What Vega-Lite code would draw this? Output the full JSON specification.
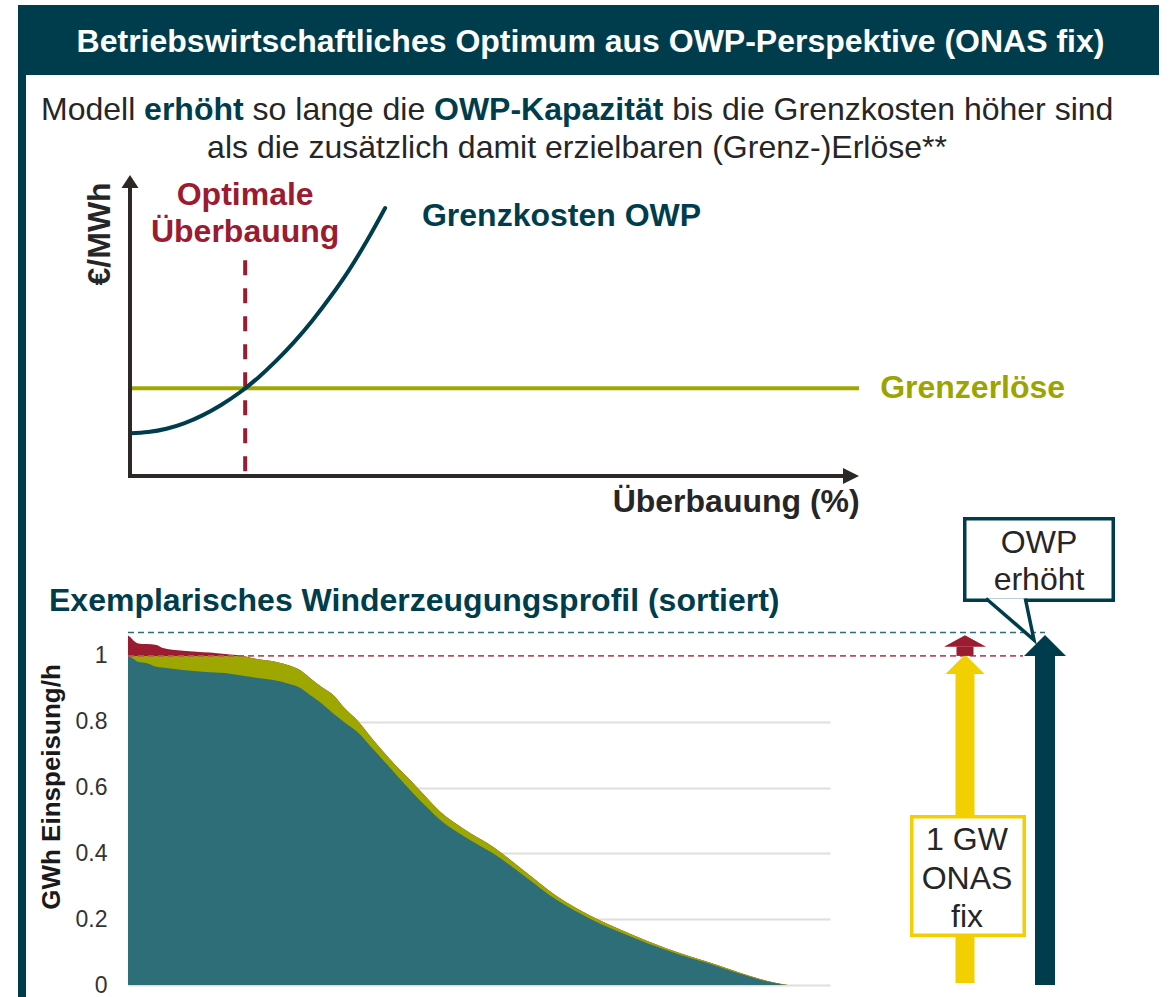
{
  "$schema": "https://vega.github.io/schema/vega-lite/v6.json",
  "padding": {"left": 18, "top": 5, "right": 10, "bottom": 0},
  "background": "white",
  "config": {"font": "Liberation Sans", "view": {"stroke": null}, "axis": {"labelFontSize": 23, "labelFont": "Liberation Sans"}},
  "datasets": {
    "curve": [
      {"x": 0, "y": 14.0}, {"x": 2.5, "y": 14.4}, {"x": 5, "y": 15.5}, {"x": 7.5, "y": 17.4},
      {"x": 10, "y": 20.1}, {"x": 12.5, "y": 23.5}, {"x": 15, "y": 27.6}, {"x": 17.5, "y": 32.5},
      {"x": 20, "y": 38.2}, {"x": 22.5, "y": 44.6}, {"x": 25, "y": 51.8}, {"x": 27.5, "y": 59.8},
      {"x": 30, "y": 68.6}, {"x": 32.5, "y": 78.6}, {"x": 35, "y": 89.6}
    ],
    "profile": [
      {"h": 0, "base": 1.0, "total": 1.0, "top": 1.062},
      {"h": 37, "base": 0.995, "total": 1.0, "top": 1.055},
      {"h": 75, "base": 0.99, "total": 1.0, "top": 1.045},
      {"h": 125, "base": 0.982, "total": 1.0, "top": 1.038},
      {"h": 233, "base": 0.978, "total": 1.0, "top": 1.036},
      {"h": 358, "base": 0.967, "total": 1.0, "top": 1.033},
      {"h": 424, "base": 0.965, "total": 1.0, "top": 1.025},
      {"h": 686, "base": 0.957, "total": 1.0, "top": 1.016},
      {"h": 1023, "base": 0.95, "total": 1.0, "top": 1.01},
      {"h": 1273, "base": 0.946, "total": 1.0, "top": 1.004},
      {"h": 1435, "base": 0.94, "total": 1.0, "top": 1.0},
      {"h": 1560, "base": 0.935, "total": 0.993, "top": 0.993},
      {"h": 1772, "base": 0.928, "total": 0.985, "top": 0.985},
      {"h": 1984, "base": 0.917, "total": 0.973, "top": 0.973},
      {"h": 2146, "base": 0.903, "total": 0.957, "top": 0.957},
      {"h": 2271, "base": 0.881, "total": 0.933, "top": 0.933},
      {"h": 2421, "base": 0.855, "total": 0.905, "top": 0.905},
      {"h": 2558, "base": 0.826, "total": 0.882, "top": 0.882},
      {"h": 2708, "base": 0.797, "total": 0.84, "top": 0.84},
      {"h": 2858, "base": 0.77, "total": 0.805, "top": 0.805},
      {"h": 3020, "base": 0.727, "total": 0.757, "top": 0.757},
      {"h": 3182, "base": 0.684, "total": 0.71, "top": 0.71},
      {"h": 3369, "base": 0.633, "total": 0.66, "top": 0.66},
      {"h": 3557, "base": 0.583, "total": 0.614, "top": 0.614},
      {"h": 3731, "base": 0.54, "total": 0.568, "top": 0.568},
      {"h": 3893, "base": 0.502, "total": 0.527, "top": 0.527},
      {"h": 4206, "base": 0.45, "total": 0.472, "top": 0.472},
      {"h": 4555, "base": 0.4, "total": 0.42, "top": 0.42},
      {"h": 4954, "base": 0.33, "total": 0.345, "top": 0.345},
      {"h": 5353, "base": 0.258, "total": 0.27, "top": 0.27},
      {"h": 5778, "base": 0.2, "total": 0.21, "top": 0.21},
      {"h": 6264, "base": 0.148, "total": 0.156, "top": 0.156},
      {"h": 6714, "base": 0.106, "total": 0.112, "top": 0.112},
      {"h": 7363, "base": 0.056, "total": 0.06, "top": 0.06},
      {"h": 7637, "base": 0.034, "total": 0.037, "top": 0.037},
      {"h": 7887, "base": 0.016, "total": 0.018, "top": 0.018},
      {"h": 8074, "base": 0.006, "total": 0.007, "top": 0.007},
      {"h": 8211, "base": 0.0, "total": 0.001, "top": 0.001},
      {"h": 8261, "base": 0.0, "total": 0.0, "top": 0.0}
    ]
  },
  "spacing": 0,
  "bounds": "flush",
  "hconcat": [
    {
      "width": 4, "height": 992,
      "view": {"fill": "#003d4c", "stroke": null},
      "data": {"values": [{}]},
      "mark": {"type": "text"},
      "encoding": {"text": {"value": ""}}
    },
    {
      "spacing": 0,
      "bounds": "flush",
      "vconcat": [
        {
          "width": 1137, "height": 70,
          "view": {"fill": "#003d4c", "stroke": null},
          "data": {"values": [{}]},
          "mark": {"type": "text", "fontSize": 32, "fontWeight": "bold", "color": "#ffffff", "baseline": "alphabetic", "dy": 11.7},
          "encoding": {"text": {"value": "Betriebswirtschaftliches Optimum aus OWP-Perspektive (ONAS fix)"}}
        },
        {
          "width": 1137, "height": 95,
          "data": {"values": [{}]},
          "layer": [
            {"mark": {"type": "text", "fontSize": 32, "color": "#262626", "align": "left", "baseline": "alphabetic", "dx": -549.5, "dy": -2.5}, "encoding": {"text": {"value": "Modell"}}},
            {"mark": {"type": "text", "fontSize": 32, "fontWeight": "bold", "color": "#003d4c", "align": "left", "baseline": "alphabetic", "dx": -446.4, "dy": -2.5}, "encoding": {"text": {"value": "erhöht"}}},
            {"mark": {"type": "text", "fontSize": 32, "color": "#262626", "align": "left", "baseline": "alphabetic", "dx": -337.9, "dy": -2.5}, "encoding": {"text": {"value": "so lange die"}}},
            {"mark": {"type": "text", "fontSize": 32, "fontWeight": "bold", "color": "#003d4c", "align": "left", "baseline": "alphabetic", "dx": -156.5, "dy": -2.5}, "encoding": {"text": {"value": "OWP-Kapazität"}}},
            {"mark": {"type": "text", "fontSize": 32, "color": "#262626", "align": "left", "baseline": "alphabetic", "dx": 81.7, "dy": -2.5}, "encoding": {"text": {"value": "bis die Grenzkosten höher sind"}}},
            {"mark": {"type": "text", "fontSize": 32, "color": "#262626", "align": "center", "baseline": "alphabetic", "dx": -13.5, "dy": 35.5}, "encoding": {"text": {"value": "als die zusätzlich damit erzielbaren (Grenz-)Erlöse**"}}}
          ]
        },
        {
          "width": 1137, "height": 350,
          "layer": [
            {
              "data": {"values": [{}]},
              "mark": {"type": "rule", "color": "#9b1b30", "strokeWidth": 4, "strokeDash": [15, 13]},
              "encoding": {
                "x": {"datum": 15.8, "type": "quantitative", "scale": {"domain": [0, 100], "range": [108, 837]}, "axis": null},
                "y": {"datum": 72.1, "type": "quantitative", "scale": {"domain": [0, 100], "range": [305, 7]}, "axis": null},
                "y2": {"datum": 1.3}
              }
            },
            {
              "data": {"values": [{}]},
              "mark": {"type": "rule", "color": "#a0a800", "strokeWidth": 4},
              "encoding": {
                "x": {"datum": 0, "type": "quantitative", "scale": {"domain": [0, 100], "range": [108, 837]}, "axis": null},
                "x2": {"datum": 100},
                "y": {"datum": 29.1, "type": "quantitative", "scale": {"domain": [0, 100], "range": [305, 7]}, "axis": null}
              }
            },
            {
              "data": {"name": "curve"},
              "mark": {"type": "line", "color": "#003d4c", "strokeWidth": 4, "interpolate": "monotone", "strokeCap": "round"},
              "encoding": {
                "x": {"field": "x", "type": "quantitative", "scale": {"domain": [0, 100], "range": [108, 837]}, "axis": null},
                "y": {"field": "y", "type": "quantitative", "scale": {"domain": [0, 100], "range": [305, 7]}, "axis": null}
              }
            },
            {
              "data": {"values": [{}]},
              "mark": {"type": "rule", "color": "#2b2826", "strokeWidth": 4, "strokeCap": "square"},
              "encoding": {
                "x": {"datum": 0, "type": "quantitative", "scale": {"domain": [0, 100], "range": [108, 837]}, "axis": null},
                "y": {"datum": -0.3, "type": "quantitative", "scale": {"domain": [0, 100], "range": [305, 7]}, "axis": null},
                "y2": {"datum": 97}
              }
            },
            {
              "data": {"values": [{}]},
              "mark": {"type": "rule", "color": "#2b2826", "strokeWidth": 4, "strokeCap": "square"},
              "encoding": {
                "x": {"datum": 0, "type": "quantitative", "scale": {"domain": [0, 100], "range": [108, 837]}, "axis": null},
                "x2": {"datum": 98},
                "y": {"datum": -0.3, "type": "quantitative", "scale": {"domain": [0, 100], "range": [305, 7]}, "axis": null}
              }
            },
            {
              "data": {"values": [{}]},
              "mark": {"type": "point", "filled": true, "opacity": 1, "color": "#2b2826", "strokeWidth": 0, "shape": "M0,-0.76L1,0.76L-1,0.76Z", "size": 289},
              "encoding": {
                "x": {"datum": 0, "type": "quantitative", "scale": {"domain": [0, 100], "range": [108, 837]}, "axis": null},
                "y": {"datum": 98.5, "type": "quantitative", "scale": {"domain": [0, 100], "range": [305, 7]}, "axis": null}
              }
            },
            {
              "data": {"values": [{}]},
              "mark": {"type": "point", "filled": true, "opacity": 1, "color": "#2b2826", "strokeWidth": 0, "shape": "M1,0L-1,-1L-1,1Z", "size": 256},
              "encoding": {
                "x": {"datum": 98.9, "type": "quantitative", "scale": {"domain": [0, 100], "range": [108, 837]}, "axis": null},
                "y": {"datum": -0.3, "type": "quantitative", "scale": {"domain": [0, 100], "range": [305, 7]}, "axis": null}
              }
            },
            {
              "data": {"values": [{}]},
              "mark": {"type": "text", "fontSize": 32, "fontWeight": "bold", "color": "#262626", "angle": 270, "align": "center", "baseline": "middle"},
              "encoding": {
                "x": {"datum": -4.1, "type": "quantitative", "scale": {"domain": [0, 100], "range": [108, 837]}, "axis": null},
                "y": {"datum": 80.9, "type": "quantitative", "scale": {"domain": [0, 100], "range": [305, 7]}, "axis": null},
                "text": {"value": "€/MWh"}
              }
            },
            {
              "data": {"values": [{}]},
              "mark": {"type": "text", "fontSize": 32, "fontWeight": "bold", "color": "#9b1b30", "align": "center", "baseline": "alphabetic"},
              "encoding": {
                "x": {"datum": 15.8, "type": "quantitative", "scale": {"domain": [0, 100], "range": [108, 837]}, "axis": null},
                "y": {"datum": 90.6, "type": "quantitative", "scale": {"domain": [0, 100], "range": [305, 7]}, "axis": null},
                "text": {"value": "Optimale"}
              }
            },
            {
              "data": {"values": [{}]},
              "mark": {"type": "text", "fontSize": 32, "fontWeight": "bold", "color": "#9b1b30", "align": "center", "baseline": "alphabetic"},
              "encoding": {
                "x": {"datum": 15.8, "type": "quantitative", "scale": {"domain": [0, 100], "range": [108, 837]}, "axis": null},
                "y": {"datum": 78.2, "type": "quantitative", "scale": {"domain": [0, 100], "range": [305, 7]}, "axis": null},
                "text": {"value": "Überbauung"}
              }
            },
            {
              "data": {"values": [{}]},
              "mark": {"type": "text", "fontSize": 32, "fontWeight": "bold", "color": "#003d4c", "align": "left", "baseline": "alphabetic"},
              "encoding": {
                "x": {"datum": 40.05, "type": "quantitative", "scale": {"domain": [0, 100], "range": [108, 837]}, "axis": null},
                "y": {"datum": 83.6, "type": "quantitative", "scale": {"domain": [0, 100], "range": [305, 7]}, "axis": null},
                "text": {"value": "Grenzkosten OWP"}
              }
            },
            {
              "data": {"values": [{}]},
              "mark": {"type": "text", "fontSize": 32, "fontWeight": "bold", "color": "#9ca400", "align": "left", "baseline": "alphabetic"},
              "encoding": {
                "x": {"datum": 102.9, "type": "quantitative", "scale": {"domain": [0, 100], "range": [108, 837]}, "axis": null},
                "y": {"datum": 25.8, "type": "quantitative", "scale": {"domain": [0, 100], "range": [305, 7]}, "axis": null},
                "text": {"value": "Grenzerlöse"}
              }
            },
            {
              "data": {"values": [{}]},
              "mark": {"type": "text", "fontSize": 32, "fontWeight": "bold", "color": "#262626", "align": "right", "baseline": "alphabetic"},
              "encoding": {
                "x": {"datum": 100.1, "type": "quantitative", "scale": {"domain": [0, 100], "range": [108, 837]}, "axis": null},
                "y": {"datum": -12.3, "type": "quantitative", "scale": {"domain": [0, 100], "range": [305, 7]}, "axis": null},
                "text": {"value": "Überbauung (%)"}
              }
            }
          ]
        },
        {
          "spacing": 0,
          "bounds": "flush",
          "hconcat": [
            {
              "width": 106, "height": 465,
              "data": {"values": [{}]},
              "mark": {"type": "text"},
              "encoding": {"text": {"value": ""}}
            },
            {
              "width": 702, "height": 465,
              "layer": [
                {
                  "data": {"name": "profile"},
                  "mark": {"type": "area", "color": "#9b1b30", "opacity": 1, "interpolate": "monotone"},
                  "encoding": {
                    "x": {"field": "h", "type": "quantitative", "scale": {"domain": [0, 8760], "nice": false}, "axis": null},
                    "y": {"field": "top", "type": "quantitative", "scale": {"domain": [0, 1.1], "range": [465, 103], "nice": false},
                      "axis": {"values": [0, 0.2, 0.4, 0.6, 0.8, 1], "format": "~g", "grid": true, "gridColor": "#e2dedb", "gridWidth": 2,
                        "gridOpacity": {"condition": {"test": "datum.value >= 1", "value": 0}, "value": 1},
                        "domain": false, "ticks": false, "labelPadding": 21, "labelFontSize": 23, "labelColor": "#333333", "labelFont": "Liberation Sans",
                        "title": "GWh Einspeisung/h", "titleFontSize": 26, "titleFontWeight": "bold", "titleColor": "#1a1a1a", "titleFont": "Liberation Sans",
                        "titleX": -69, "titleY": 266.5, "titleAngle": 270, "titleAlign": "center", "titleBaseline": "alphabetic"}}
                  }
                },
                {
                  "data": {"name": "profile"},
                  "mark": {"type": "area", "color": "#9ea700", "opacity": 1, "interpolate": "monotone"},
                  "encoding": {
                    "x": {"field": "h", "type": "quantitative", "scale": {"domain": [0, 8760], "nice": false}, "axis": null},
                    "y": {"field": "total", "type": "quantitative", "scale": {"domain": [0, 1.1], "range": [465, 103], "nice": false},
                      "axis": {"values": [0, 0.2, 0.4, 0.6, 0.8, 1], "format": "~g", "grid": true, "gridColor": "#e2dedb", "gridWidth": 2,
                        "gridOpacity": {"condition": {"test": "datum.value >= 1", "value": 0}, "value": 1},
                        "domain": false, "ticks": false, "labelPadding": 21, "labelFontSize": 23, "labelColor": "#333333", "labelFont": "Liberation Sans",
                        "title": "GWh Einspeisung/h", "titleFontSize": 26, "titleFontWeight": "bold", "titleColor": "#1a1a1a", "titleFont": "Liberation Sans",
                        "titleX": -69, "titleY": 266.5, "titleAngle": 270, "titleAlign": "center", "titleBaseline": "alphabetic"}}
                  }
                },
                {
                  "data": {"name": "profile"},
                  "mark": {"type": "area", "color": "#2e6e78", "opacity": 1, "interpolate": "monotone"},
                  "encoding": {
                    "x": {"field": "h", "type": "quantitative", "scale": {"domain": [0, 8760], "nice": false}, "axis": null},
                    "y": {"field": "base", "type": "quantitative", "scale": {"domain": [0, 1.1], "range": [465, 103], "nice": false},
                      "axis": {"values": [0, 0.2, 0.4, 0.6, 0.8, 1], "format": "~g", "grid": true, "gridColor": "#e2dedb", "gridWidth": 2,
                        "gridOpacity": {"condition": {"test": "datum.value >= 1", "value": 0}, "value": 1},
                        "domain": false, "ticks": false, "labelPadding": 21, "labelFontSize": 23, "labelColor": "#333333", "labelFont": "Liberation Sans",
                        "title": "GWh Einspeisung/h", "titleFontSize": 26, "titleFontWeight": "bold", "titleColor": "#1a1a1a", "titleFont": "Liberation Sans",
                        "titleX": -69, "titleY": 266.5, "titleAngle": 270, "titleAlign": "center", "titleBaseline": "alphabetic"}}
                  }
                },
                {
                  "data": {"values": [{}]},
                  "mark": {"type": "rule", "color": "#b5505f", "strokeWidth": 1.6, "strokeDash": [6, 4]},
                  "encoding": {
                    "x": {"datum": 0, "type": "quantitative", "scale": {"domain": [0, 8760], "nice": false}, "axis": null},
                    "x2": {"datum": 8760},
                    "y": {"datum": 1, "type": "quantitative", "scale": {"domain": [0, 1.1], "range": [465, 103], "nice": false},
                      "axis": {"values": [0, 0.2, 0.4, 0.6, 0.8, 1], "format": "~g", "grid": true, "gridColor": "#e2dedb", "gridWidth": 2,
                        "gridOpacity": {"condition": {"test": "datum.value >= 1", "value": 0}, "value": 1},
                        "domain": false, "ticks": false, "labelPadding": 21, "labelFontSize": 23, "labelColor": "#333333", "labelFont": "Liberation Sans",
                        "title": "GWh Einspeisung/h", "titleFontSize": 26, "titleFontWeight": "bold", "titleColor": "#1a1a1a", "titleFont": "Liberation Sans",
                        "titleX": -69, "titleY": 266.5, "titleAngle": 270, "titleAlign": "center", "titleBaseline": "alphabetic"}}
                  }
                },
                {
                  "data": {"values": [{}]},
                  "mark": {"type": "rule", "color": "#2e6e78", "strokeWidth": 1.6, "strokeDash": [6, 4]},
                  "encoding": {
                    "x": {"datum": 0, "type": "quantitative", "scale": {"domain": [0, 8760], "nice": false}, "axis": null},
                    "x2": {"datum": 8760},
                    "y": {"datum": 1.071, "type": "quantitative", "scale": {"domain": [0, 1.1], "range": [465, 103], "nice": false},
                      "axis": {"values": [0, 0.2, 0.4, 0.6, 0.8, 1], "format": "~g", "grid": true, "gridColor": "#e2dedb", "gridWidth": 2,
                        "gridOpacity": {"condition": {"test": "datum.value >= 1", "value": 0}, "value": 1},
                        "domain": false, "ticks": false, "labelPadding": 21, "labelFontSize": 23, "labelColor": "#333333", "labelFont": "Liberation Sans",
                        "title": "GWh Einspeisung/h", "titleFontSize": 26, "titleFontWeight": "bold", "titleColor": "#1a1a1a", "titleFont": "Liberation Sans",
                        "titleX": -69, "titleY": 266.5, "titleAngle": 270, "titleAlign": "center", "titleBaseline": "alphabetic"}}
                  }
                },
                {
                  "data": {"values": [{}]},
                  "mark": {"type": "text", "fontSize": 32, "fontWeight": "bold", "color": "#003d4c", "align": "left", "baseline": "alphabetic", "dx": -79},
                  "encoding": {
                    "x": {"datum": 0, "type": "quantitative", "scale": {"domain": [0, 8760], "nice": false}, "axis": null},
                    "y": {"datum": 1.1364, "type": "quantitative", "scale": {"domain": [0, 1.1], "range": [465, 103], "nice": false},
                      "axis": {"values": [0, 0.2, 0.4, 0.6, 0.8, 1], "format": "~g", "grid": true, "gridColor": "#e2dedb", "gridWidth": 2,
                        "gridOpacity": {"condition": {"test": "datum.value >= 1", "value": 0}, "value": 1},
                        "domain": false, "ticks": false, "labelPadding": 21, "labelFontSize": 23, "labelColor": "#333333", "labelFont": "Liberation Sans",
                        "title": "GWh Einspeisung/h", "titleFontSize": 26, "titleFontWeight": "bold", "titleColor": "#1a1a1a", "titleFont": "Liberation Sans",
                        "titleX": -69, "titleY": 266.5, "titleAngle": 270, "titleAlign": "center", "titleBaseline": "alphabetic"}},
                    "text": {"value": "Exemplarisches Winderzeugungsprofil (sortiert)"}
                  }
                }
              ]
            },
            {
              "width": 329, "height": 465,
              "layer": [
                {
                  "data": {"values": [{}]},
                  "mark": {"type": "rule", "color": "#b5505f", "strokeWidth": 1.6, "strokeDash": [6, 4], "xOffset": -135, "x2Offset": -22},
                  "encoding": {
                    "x": {"datum": "ONAS", "type": "nominal", "scale": {"type": "point", "domain": ["ONAS", "OWP"], "range": [135, 215], "padding": 0}, "axis": null},
                    "x2": {"datum": "OWP"},
                    "y": {"datum": 1, "type": "quantitative", "scale": {"domain": [0, 1.1], "range": [465, 103], "nice": false}, "axis": null}
                  }
                },
                {
                  "data": {"values": [{}]},
                  "mark": {"type": "rule", "color": "#2e6e78", "strokeWidth": 1.6, "strokeDash": [6, 4], "xOffset": -135},
                  "encoding": {
                    "x": {"datum": "ONAS", "type": "nominal", "scale": {"type": "point", "domain": ["ONAS", "OWP"], "range": [135, 215], "padding": 0}, "axis": null},
                    "x2": {"datum": "OWP"},
                    "y": {"datum": 1.071, "type": "quantitative", "scale": {"domain": [0, 1.1], "range": [465, 103], "nice": false}, "axis": null}
                  }
                },
                {
                  "data": {"values": [{}]},
                  "mark": {"type": "bar", "color": "#f2cf00", "width": 19},
                  "encoding": {
                    "x": {"datum": "ONAS", "type": "nominal", "scale": {"type": "point", "domain": ["ONAS", "OWP"], "range": [135, 215], "padding": 0}, "axis": null},
                    "y": {"datum": 0.006, "type": "quantitative", "scale": {"domain": [0, 1.1], "range": [465, 103], "nice": false}, "axis": null},
                    "y2": {"datum": 0.945}
                  }
                },
                {
                  "data": {"values": [{}]},
                  "mark": {"type": "point", "filled": true, "opacity": 1, "color": "#f2cf00", "strokeWidth": 0, "shape": "M0,-1L1,0L-1,0Z", "size": 1521},
                  "encoding": {
                    "x": {"datum": "ONAS", "type": "nominal", "scale": {"type": "point", "domain": ["ONAS", "OWP"], "range": [135, 215], "padding": 0}, "axis": null},
                    "y": {"datum": 0.945, "type": "quantitative", "scale": {"domain": [0, 1.1], "range": [465, 103], "nice": false}, "axis": null}
                  }
                },
                {
                  "data": {"values": [{}]},
                  "mark": {"type": "bar", "fill": "#ffffff", "stroke": "#f2cf00", "strokeWidth": 3.5, "width": 112.5, "xOffset": 3},
                  "encoding": {
                    "x": {"datum": "ONAS", "type": "nominal", "scale": {"type": "point", "domain": ["ONAS", "OWP"], "range": [135, 215], "padding": 0}, "axis": null},
                    "y": {"datum": 0.1512, "type": "quantitative", "scale": {"domain": [0, 1.1], "range": [465, 103], "nice": false}, "axis": null},
                    "y2": {"datum": 0.5113}
                  }
                },
                {
                  "data": {"values": [{}]},
                  "mark": {"type": "text", "fontSize": 32, "color": "#262626", "align": "center", "baseline": "alphabetic", "lineHeight": 38.5, "dx": 2},
                  "encoding": {
                    "x": {"datum": "ONAS", "type": "nominal", "scale": {"type": "point", "domain": ["ONAS", "OWP"], "range": [135, 215], "padding": 0}, "axis": null},
                    "y": {"datum": 0.41, "type": "quantitative", "scale": {"domain": [0, 1.1], "range": [465, 103], "nice": false}, "axis": null},
                    "text": {"value": ["1 GW", "ONAS", "fix"]}
                  }
                },
                {
                  "data": {"values": [{}]},
                  "mark": {"type": "bar", "color": "#9b1b30", "width": 17},
                  "encoding": {
                    "x": {"datum": "ONAS", "type": "nominal", "scale": {"type": "point", "domain": ["ONAS", "OWP"], "range": [135, 215], "padding": 0}, "axis": null},
                    "y": {"datum": 1.0, "type": "quantitative", "scale": {"domain": [0, 1.1], "range": [465, 103], "nice": false}, "axis": null},
                    "y2": {"datum": 1.028}
                  }
                },
                {
                  "data": {"values": [{}]},
                  "mark": {"type": "point", "filled": true, "opacity": 1, "color": "#9b1b30", "strokeWidth": 0, "shape": "M0,-0.55L1,0L-1,0Z", "size": 1764},
                  "encoding": {
                    "x": {"datum": "ONAS", "type": "nominal", "scale": {"type": "point", "domain": ["ONAS", "OWP"], "range": [135, 215], "padding": 0}, "axis": null},
                    "y": {"datum": 1.028, "type": "quantitative", "scale": {"domain": [0, 1.1], "range": [465, 103], "nice": false}, "axis": null}
                  }
                },
                {
                  "data": {"values": [{}]},
                  "mark": {"type": "bar", "color": "#003d4c", "width": 20},
                  "encoding": {
                    "x": {"datum": "OWP", "type": "nominal", "scale": {"type": "point", "domain": ["ONAS", "OWP"], "range": [135, 215], "padding": 0}, "axis": null},
                    "y": {"datum": 0.0, "type": "quantitative", "scale": {"domain": [0, 1.1], "range": [465, 103], "nice": false}, "axis": null},
                    "y2": {"datum": 1.0}
                  }
                },
                {
                  "data": {"values": [{}]},
                  "mark": {"type": "point", "filled": true, "opacity": 1, "color": "#003d4c", "strokeWidth": 0, "shape": "M0,-1L1,0L-1,0Z", "size": 1764},
                  "encoding": {
                    "x": {"datum": "OWP", "type": "nominal", "scale": {"type": "point", "domain": ["ONAS", "OWP"], "range": [135, 215], "padding": 0}, "axis": null},
                    "y": {"datum": 1.0, "type": "quantitative", "scale": {"domain": [0, 1.1], "range": [465, 103], "nice": false}, "axis": null}
                  }
                },
                {
                  "data": {"values": [{}]},
                  "mark": {"type": "bar", "fill": "#ffffff", "stroke": "#003d4c", "strokeWidth": 3.5, "width": 148.5, "xOffset": -6},
                  "encoding": {
                    "x": {"datum": "OWP", "type": "nominal", "scale": {"type": "point", "domain": ["ONAS", "OWP"], "range": [135, 215], "padding": 0}, "axis": null},
                    "y": {"datum": 1.169, "type": "quantitative", "scale": {"domain": [0, 1.1], "range": [465, 103], "nice": false}, "axis": null},
                    "y2": {"datum": 1.4167}
                  }
                },
                {
                  "data": {"values": [{}]},
                  "mark": {"type": "point", "filled": true, "opacity": 1, "fill": "#ffffff", "stroke": "#003d4c", "strokeWidth": 3.5, "shape": "M-1,-0.865L1,0.865L0.6375,-0.865", "size": 2304, "xOffset": -35},
                  "encoding": {
                    "x": {"datum": "OWP", "type": "nominal", "scale": {"type": "point", "domain": ["ONAS", "OWP"], "range": [135, 215], "padding": 0}, "axis": null},
                    "y": {"datum": 1.1114, "type": "quantitative", "scale": {"domain": [0, 1.1], "range": [465, 103], "nice": false}, "axis": null}
                  }
                },
                {
                  "data": {"values": [{}]},
                  "mark": {"type": "text", "fontSize": 32, "color": "#262626", "align": "center", "baseline": "alphabetic", "lineHeight": 37, "dx": -6},
                  "encoding": {
                    "x": {"datum": "OWP", "type": "nominal", "scale": {"type": "point", "domain": ["ONAS", "OWP"], "range": [135, 215], "padding": 0}, "axis": null},
                    "y": {"datum": 1.3127, "type": "quantitative", "scale": {"domain": [0, 1.1], "range": [465, 103], "nice": false}, "axis": null},
                    "text": {"value": ["OWP", "erhöht"]}
                  }
                }
              ]
            }
          ]
        }
      ]
    },
    {
      "width": 4, "height": 992,
      "view": {"fill": "#003d4c", "stroke": null},
      "data": {"values": [{}]},
      "mark": {"type": "text"},
      "encoding": {"text": {"value": ""}}
    }
  ]
}
